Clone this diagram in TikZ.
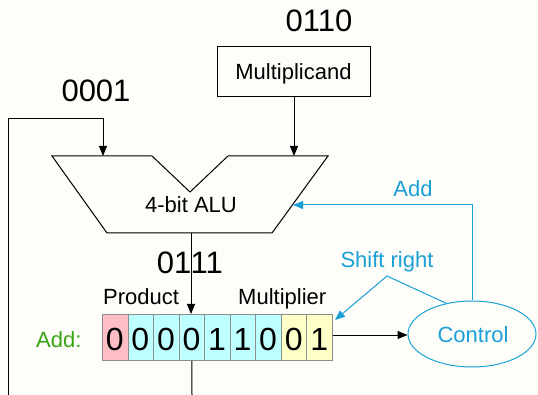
\documentclass[tikz,border=0pt]{standalone}
\usepackage{fontspec}
\setmainfont{Liberation Sans}
\usetikzlibrary{arrows.meta,shapes.geometric}
\definecolor{bg}{RGB}{253,253,250}
\definecolor{ctl}{RGB}{27,160,214}
\definecolor{addg}{RGB}{58,165,20}
\definecolor{cpink}{RGB}{255,190,196}
\definecolor{ccyan}{RGB}{190,255,255}
\definecolor{cyell}{RGB}{255,255,200}
\definecolor{cedge}{RGB}{140,140,140}
\tikzset{
  lbl/.style={font=\fontsize{22}{26}\selectfont, inner sep=0pt},
  big/.style={font=\fontsize{31}{36}\selectfont, inner sep=0pt},
  cellbox/.style={draw=cedge, line width=0.9pt, minimum width=25.55pt, minimum height=46pt, inner sep=0pt, font=\fontsize{32}{36}\selectfont},
  wire/.style={line width=1pt, black},
  bwire/.style={line width=1pt, ctl},
  tip/.style={-{Triangle[length=10pt,width=8pt]}},
}
\begin{document}
\begin{tikzpicture}[x=1pt,y=-1pt]
\fill[bg] (0,0) rectangle (538,395);
\useasboundingbox (0,0) rectangle (538,395);

% ALU shape
\draw[wire, line join=miter] (52,156) -- (152,156) -- (190,192) -- (228,156) -- (328,156) -- (272,233) -- (107,233) -- cycle;
\node[lbl, anchor=base] (alu) at (191,213) {4-bit ALU};
\coordinate (aluinL) at (103,156);
\coordinate (aluinR) at (294,156);
\coordinate (aluout) at (191,233);
\coordinate (aluside) at (293,205);

% Multiplicand
\node[draw, line width=1pt, minimum width=153pt, minimum height=50pt, inner sep=0pt] (mcand) at (293.5,72) {};
\node[lbl, anchor=base] (mcandtxt) at (293.5,80) {Multiplicand};
\node[big, anchor=base] (v0110) at (319,32) {0110};
\node[big, anchor=base] (v0001) at (96,102) {0001};
\node[big, anchor=base east] (v01) at (191.5,274) {01};
\node[big, anchor=base west] (v11) at (190.5,274) {11};

% Register
\foreach \i/\d/\c in {0/0/cpink,1/0/ccyan,2/0/ccyan,3/0/ccyan,4/1/ccyan,5/1/ccyan,6/0/ccyan,7/0/cyell,8/1/cyell}{
  \node[cellbox, fill=\c, anchor=north west] (c\i) at ({102+25.55*\i},314) {};
  \node[anchor=base, inner sep=0pt, font=\fontsize{32}{36}\selectfont] (d\i) at ({102+25.55*\i+12.8},350) {\d};
}
\node[lbl, anchor=base west] (prod) at (103,305) {Product};
\node[lbl, anchor=base west] (mplier) at (238,305) {Multiplier};
\node[lbl, anchor=base west, text=addg] (addlbl) at (36,347) {Add:};

% Control
\node[draw=ctl, line width=1pt, ellipse, minimum width=128pt, minimum height=66pt, inner sep=0pt] (ctrl) at (472,334) {};
\node[lbl, anchor=base, text=ctl] (ctrltxt) at (473,342) {Control};
\node[lbl, anchor=base, text=ctl] (addtxt) at (413,197) {Add};
\node[lbl, anchor=base, text=ctl] (shtxt) at (387,268) {Shift right};
\coordinate (apex) at (387,276);
\coordinate (shtip) at (335,320);

% Connectors
\coordinate (lbot) at (8,395);
\coordinate (ltop) at (8,119);
\coordinate (lturn) at (103,119);
\draw[wire, tip] (lbot) -- (ltop) -- (lturn) -- (aluinL);
\draw[wire, tip] (mcand.south -| aluinR) -- (aluinR);
\draw[wire, tip] (aluout) -- (aluout |- c3.north);
\coordinate (rbot) at (192,395);
\draw[wire] (c3.south) -- (rbot);
\draw[wire, tip] (c8.east |- 0,335) -- (ctrl.west |- 0,335);
\draw[bwire, tip] (ctrl.north) -- (ctrl.north |- aluside) -- (aluside);
\draw[bwire, tip] (ctrl.130) -- (apex) -- (shtip);
\end{tikzpicture}
\end{document}
